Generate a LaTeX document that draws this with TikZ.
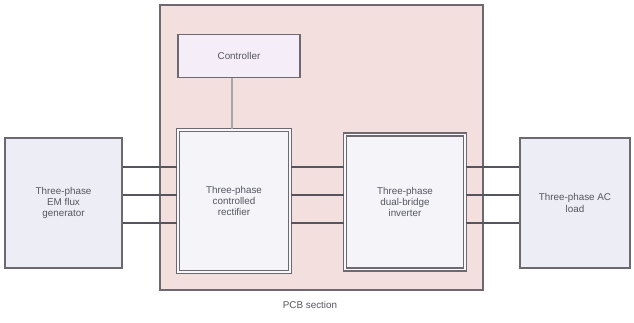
\documentclass[tikz,border=0pt]{standalone}
\usepackage{fontspec}
\setmainfont{Liberation Sans}
\usetikzlibrary{calc,positioning}
\definecolor{pcsink}{HTML}{55555F}
\definecolor{pcsline}{HTML}{6E6870}
\definecolor{pcspink}{HTML}{F4DFDF}
\definecolor{pcsbox}{HTML}{EDEDF5}
\definecolor{pcsctrl}{HTML}{F5EEF8}
\tikzset{
  blocktext/.style={font=\scriptsize, text=pcsink, align=center},
  sidebox/.style={draw=pcsline, fill=pcsbox, line width=1pt, blocktext},
  innerbox/.style={draw=pcsline, fill=pcsbox!60!white, line width=.9pt,
    double=pcsbox!40!white, double distance=1.2pt, blocktext},
  wire/.style={draw=pcsink, line width=.9pt}
}
\begin{document}
\begin{tikzpicture}[x=0.025cm,y=-0.025cm]
  \useasboundingbox (0,0) rectangle (634,323);
  % outer converter frame
  \node[draw=pcsline, fill=pcspink, line width=1.2pt,
    minimum width=8.075cm, minimum height=7.125cm] (pcs) at (321.5,147.5) {};
  \node[blocktext] (pcslabel) at (310,305) {PCB section};

  % blocks
  \node[sidebox, minimum width=2.925cm, minimum height=3.25cm] (gen) at (63.5,203)
    {Three-phase\\EM flux\\generator};
  \node[innerbox, minimum width=2.8cm, minimum height=3.55cm] (rect) at (234,201)
    {Three-phase\\controlled\\rectifier};
  \node[innerbox, minimum width=3cm, minimum height=3.375cm] (inv) at (405,202)
    {Three-phase\\dual-bridge\\inverter};
  \node[sidebox, minimum width=2.75cm, minimum height=3.25cm] (load) at (575,203)
    {Three-phase AC\\load};
  \node[draw=pcsline, fill=pcsctrl, line width=1pt, blocktext,
    minimum width=3.05cm, minimum height=1.075cm] (ctrl) at (239,56) {Controller};

  % connections
  \draw[wire, pcsline!60!white] (ctrl.south -| 232,0) -- (rect.north -| 232,0);
  \foreach \k in {167,195,223} {
    \draw[wire] (gen.east |- 0,\k) -- (rect.west |- 0,\k);
    \draw[wire] (rect.east |- 0,\k) -- (inv.west |- 0,\k);
    \draw[wire] (inv.east |- 0,\k) -- (load.west |- 0,\k);
  }
\end{tikzpicture}
\end{document}
